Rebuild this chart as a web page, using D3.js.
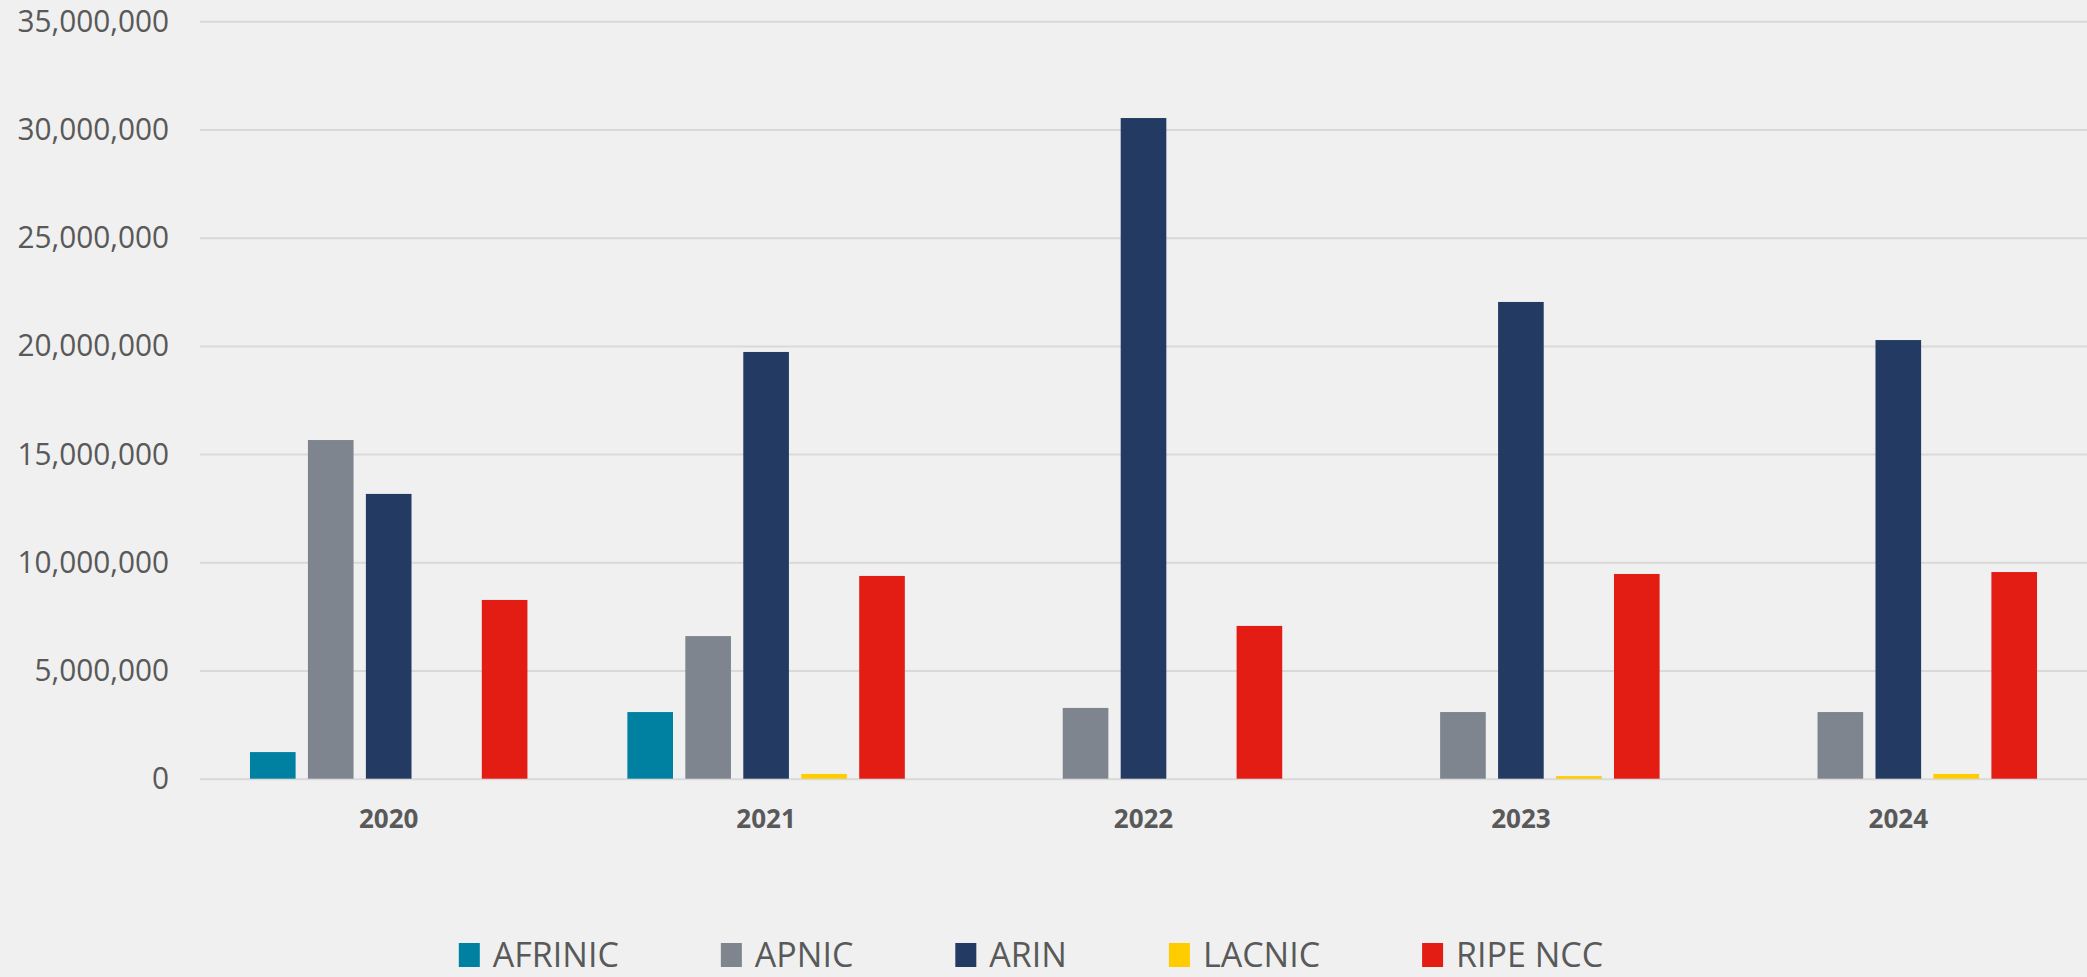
<!DOCTYPE html>
<html lang="en">
<head>
<meta charset="UTF-8">
<title>IPv4 transfers by RIR</title>
<style>
    html, body { margin: 0; padding: 0; background: #f0f0f0; }
    svg text { font-family: 'Open Sans', 'Noto Sans', sans-serif; fill: #595959; }
</style>
<script src="https://d3js.org/d3.v7.min.js"></script>
</head>
<body>
<svg width="2087" height="977"></svg>
<script>
    const years = ["2020", "2021", "2022", "2023", "2024"];
    const registries = ["AFRINIC", "APNIC", "ARIN", "LACNIC", "RIPE NCC"];
    const afrinic = [1230000, 3080000, 0, 0, 0];
    const apnic = [15650000, 6590000, 3270000, 3080000, 3080000];
    const arin = [13160000, 19720000, 30530000, 22030000, 20270000];
    const lacnic = [0, 220000, 0, 120000, 220000];
    const ripeNcc = [8260000, 9370000, 7060000, 9460000, 9550000];
    const yTicks = [0, 5000000, 10000000, 15000000, 20000000, 25000000, 30000000, 35000000];
    const colors = ["#0081a1", "#7e858e", "#233a63", "#ffcc00", "#e31d14"];

    const seriesValues = [afrinic, apnic, arin, lacnic, ripeNcc];
    const rows = years.map((yr, i) => ({
        year: yr,
        values: registries.map((r, k) => ({ key: r, value: seriesValues[k][i] }))
    }));

    const width = 2087, height = 977;
    const plotLeft = 200, plotRight = 2087, plotTop = 21.3, plotBottom = 778.7;
    const squeeze = 0.96; // y labels look slightly condensed

    const svg = d3.select("svg").attr("width", width).attr("height", height);
    svg.append("rect").attr("width", width).attr("height", height).attr("fill", "#f0f0f0");

    const x0 = d3.scaleBand().domain(years).range([plotLeft, plotRight]);
    const barW = x0.bandwidth() / 8.27;
    const clusterW = barW * 6.08;
    const x1 = d3.scaleBand()
        .domain(registries)
        .range([(x0.bandwidth() - clusterW) / 2, (x0.bandwidth() + clusterW) / 2])
        .paddingInner(0.27 / 1.27);

    const y = d3.scaleLinear().domain([0, 35000000]).range([plotBottom, plotTop]);

    const color = d3.scaleOrdinal().domain(registries).range(colors);

    // gridlines
    svg.append("g")
        .attr("transform", `translate(${plotLeft},0)`)
        .call(d3.axisLeft(y).tickValues(yTicks).tickSize(-(plotRight - plotLeft)).tickFormat(""))
        .call(g => g.select(".domain").remove())
        .call(g => g.selectAll("line").attr("stroke", "#d9d9d9").attr("stroke-width", 2));

    // y labels
    const yAxis = svg.append("g")
        .attr("transform", `translate(${plotLeft},0)`)
        .call(d3.axisLeft(y).tickValues(yTicks).tickSize(0).tickPadding(31 / squeeze).tickFormat(d3.format(",")))
        .call(g => g.select(".domain").remove());
    yAxis.selectAll("text")
        .attr("fill", "#595959")
        .attr("transform", `scale(${squeeze},1)`)
        .style("font-size", "31px");

    // x labels
    const xAxis = svg.append("g")
        .attr("transform", `translate(0,${plotBottom})`)
        .call(d3.axisBottom(x0).tickSize(0).tickPadding(31))
        .call(g => g.select(".domain").remove());
    xAxis.selectAll("text")
        .attr("fill", "#595959")
        .style("font-size", "26px")
        .style("font-weight", "700");

    // bars
    const groups = svg.selectAll("g.year")
        .data(rows)
        .enter().append("g")
        .attr("class", "year")
        .attr("transform", d => `translate(${x0(d.year)},0)`);

    groups.selectAll("rect")
        .data(d => d.values.filter(v => v.value > 0))
        .enter().append("rect")
        .attr("x", d => x1(d.key))
        .attr("y", d => y(d.value))
        .attr("width", x1.bandwidth())
        .attr("height", d => y(0) - y(d.value))
        .attr("fill", d => color(d.key));

    // legend (kept a few px above the bottom edge so nothing is clipped)
    const legendTop = 943;
    const legend = svg.append("g");
    let lx = 0;
    const items = legend.selectAll("g.item")
        .data(registries)
        .enter().append("g")
        .attr("class", "item");
    items.each(function (d) {
        const g = d3.select(this);
        g.append("rect").attr("width", 21).attr("height", 24).attr("fill", color(d));
        const t = g.append("text")
            .attr("x", 34)
            .attr("y", 24)
            .style("font-size", "34px")
            .text(d);
        const w = t.node().getComputedTextLength();
        g.attr("transform", `translate(${lx},0)`);
        lx += 34 + w + 102;
    });
    const legendW = lx - 102;
    legend.attr("transform", `translate(${1031 - legendW / 2},${legendTop})`);
</script>
</body>
</html>
